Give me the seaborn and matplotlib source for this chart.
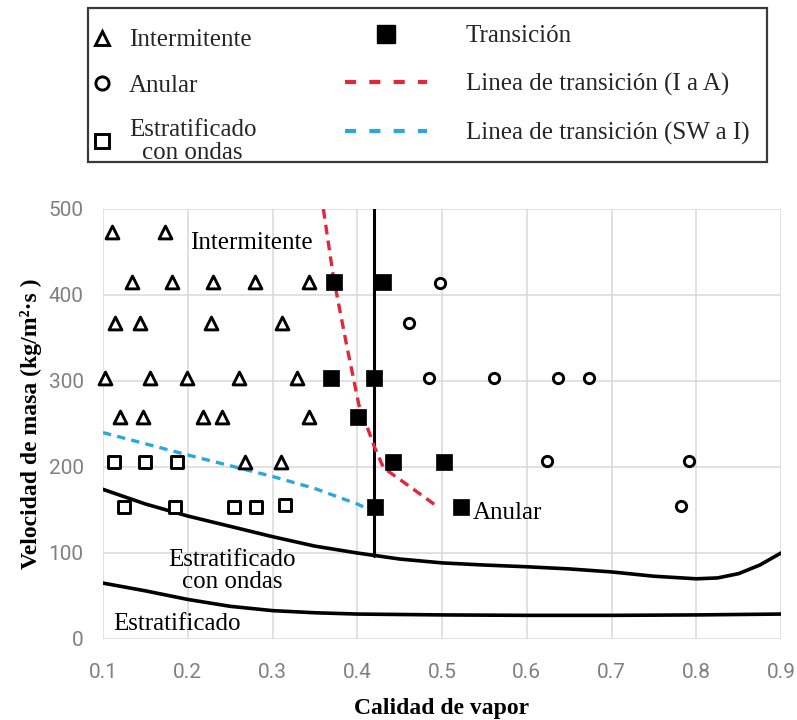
import matplotlib
matplotlib.use("Agg")
import matplotlib.pyplot as plt
import seaborn as sns
from matplotlib.lines import Line2D
from matplotlib.patches import Rectangle

# ---------------- data ----------------
# Intermitente (open triangles)
int_x = [0.111, 0.173,
         0.134, 0.181, 0.230, 0.279, 0.343,
         0.114, 0.144, 0.228, 0.311,
         0.102, 0.155, 0.199, 0.261, 0.329,
         0.120, 0.147, 0.218, 0.240, 0.343,
         0.268, 0.310]
int_y = [473, 473,
         415, 415, 415, 415, 415,
         368, 368, 368, 368,
         303, 303, 303, 303, 303,
         258, 258, 258, 258, 258,
         206, 206]

# Anular (open circles)
anu_x = [0.498, 0.461, 0.485, 0.561, 0.637, 0.674, 0.624, 0.791, 0.782]
anu_y = [414, 367, 303, 303, 303, 303, 207, 207, 155]

# Estratificado con ondas (open squares)
sw_x = [0.113, 0.150, 0.187, 0.125, 0.185, 0.254, 0.280, 0.315]
sw_y = [206, 206, 206, 154, 154, 154, 154, 156]

# Transicion (filled squares)
tr_x = [0.372, 0.430, 0.369, 0.420, 0.401, 0.442, 0.502, 0.421, 0.523]
tr_y = [415, 415, 304, 304, 258, 206, 206, 154, 154]

# Frontera estratificado con ondas (solid black)
upper_x = [0.10, 0.15, 0.20, 0.25, 0.30, 0.35, 0.40, 0.45, 0.50, 0.55, 0.60,
           0.65, 0.70, 0.75, 0.80, 0.825, 0.85, 0.875, 0.90]
upper_y = [174, 157, 143, 131, 119, 108, 100, 93, 88.5, 86, 84,
           81.5, 78, 73, 70, 71, 76, 86, 100]

# Frontera estratificado (solid black)
lower_x = [0.10, 0.15, 0.20, 0.25, 0.30, 0.35, 0.40, 0.50, 0.60, 0.70, 0.80, 0.90]
lower_y = [65, 56, 46, 38, 33, 30.5, 29, 28, 27.5, 27.5, 28, 29]

# Frontera intermitente / anular vertical
vert_x = [0.42, 0.42]
vert_y = [97, 500]

# Linea de transicion (I a A) - red dashed
ia_x = [0.360, 0.372, 0.388, 0.402, 0.413, 0.420, 0.431, 0.458, 0.496]
ia_y = [500, 420, 339, 272, 243, 224, 199, 180, 153]

# Linea de transicion (SW a I) - cyan dashed
swi_x = [0.10, 0.20, 0.30, 0.35, 0.40, 0.415]
swi_y = [240, 214, 189, 175, 157, 150]

x_ticks = [0.1, 0.2, 0.3, 0.4, 0.5, 0.6, 0.7, 0.8, 0.9]
x_ticklabels = ["0.1", "0.2", "0.3", "0.4", "0.5", "0.6", "0.7", "0.8", "0.9"]
y_ticks = [0, 100, 200, 300, 400, 500]
y_ticklabels = ["0", "100", "200", "300", "400", "500"]

legend_labels_1 = ["Intermitente", "Anular", "Estratificado\ncon ondas"]
legend_labels_2 = ["Transición", "Linea de transición (I a A)", "Linea de transición (SW a I)"]

RED = "#e3263a"
CYAN = "#2aa8dc"

# ---------------- style ----------------
sns.set_theme(style="white")
plt.rcParams["font.family"] = ["Liberation Serif", "DejaVu Serif"]
plt.rcParams["lines.scale_dashes"] = False

W, H = 797, 720
fig = plt.figure(figsize=(W / 100, H / 100), dpi=100)
ax = fig.add_axes([103 / W, 1 - 639 / H, 678 / W, 430 / H])

ax.set_xlim(0.1, 0.9)
ax.set_ylim(0, 500)
ax.set_xticks(x_ticks)
ax.set_xticklabels(x_ticklabels)
ax.set_yticks(y_ticks)
ax.set_yticklabels(y_ticklabels)
ax.grid(True, color="#d9d9d9", lw=1.1)
ax.set_axisbelow(True)
for s in ax.spines.values():
    s.set_visible(False)
ax.tick_params(axis="both", length=0, labelcolor="#808080")
ax.tick_params(axis="x", pad=17)
ax.tick_params(axis="y", pad=14)
for lbl in ax.get_xticklabels() + ax.get_yticklabels():
    lbl.set_fontfamily(["Liberation Sans Narrow", "Roboto", "DejaVu Sans"])
    lbl.set_fontsize(15)

# ---------------- lines ----------------
sns.lineplot(x=lower_x, y=lower_y, ax=ax, color="black", lw=2.6,
             estimator=None, sort=False)
sns.lineplot(x=upper_x, y=upper_y, ax=ax, color="black", lw=2.6,
             estimator=None, sort=False)
sns.lineplot(x=vert_x, y=vert_y, ax=ax, color="black", lw=2.2,
             estimator=None, sort=False)
sns.lineplot(x=ia_x, y=ia_y, ax=ax, color=RED, lw=2.4,
             estimator=None, sort=False, linestyle=(0, (7, 4.5)))
sns.lineplot(x=swi_x, y=swi_y, ax=ax, color=CYAN, lw=2.4,
             estimator=None, sort=False, linestyle=(0, (6, 4.5)))

# ---------------- markers ----------------
sns.scatterplot(x=int_x, y=int_y, ax=ax, marker="^", s=85, color="white",
                edgecolor="black", linewidth=2.1, clip_on=False, zorder=5)
sns.scatterplot(x=anu_x, y=anu_y, ax=ax, marker="o", s=55, color="white",
                edgecolor="black", linewidth=2.1, clip_on=False, zorder=5)
sns.scatterplot(x=sw_x, y=sw_y, ax=ax, marker="s", s=64, color="white",
                edgecolor="black", linewidth=2.1, clip_on=False, zorder=5)
sns.scatterplot(x=tr_x, y=tr_y, ax=ax, marker="s", s=118, color="black",
                edgecolor="black", linewidth=0.5, clip_on=False, zorder=6)

# ---------------- annotations ----------------
FS = 18
ax.text(0.203, 461, "Intermitente", fontsize=FS, ha="left", va="center", color="black")
ax.text(0.536, 147, "Anular", fontsize=FS, ha="left", va="center", color="black")
ax.text(0.252, 79, "Estratificado\ncon ondas", fontsize=FS, ha="center", va="center",
        multialignment="center", linespacing=1.05, color="black")
ax.text(0.112, 17, "Estratificado", fontsize=FS, ha="left", va="center", color="black")

ax.set_xlabel("Calidad de vapor", fontsize=17, fontweight="bold", color="black")
ax.xaxis.set_label_coords(0.5, -0.138)
ax.set_ylabel("Velocidad de masa (kg/m²·s )", fontsize=17, fontweight="bold", color="black")
ax.yaxis.set_label_coords(-0.09, 0.5)

# ---------------- legend ----------------
h1 = [
    Line2D([], [], ls="none", marker="^", ms=10.5, mfc="white", mec="black", mew=2.1),
    Line2D([], [], ls="none", marker="o", ms=9.5, mfc="white", mec="black", mew=2.1),
    Line2D([], [], ls="none", marker="s", ms=10, mfc="white", mec="black", mew=2.1),
]
h2 = [
    Line2D([], [], ls="none", marker="s", ms=13.5, mfc="black", mec="black"),
    Line2D([], [], color=RED, lw=3.0, ls=(0, (8, 9.5))),
    Line2D([], [], color=CYAN, lw=3.0, ls=(0, (8, 9.5))),
]
fsz_px = FS * 100 / 72
leg1 = fig.legend(h1, legend_labels_1, loc="upper left",
                  bbox_to_anchor=(91 / W, 1 - 29 / H), frameon=False,
                  fontsize=FS, handlelength=0.9, handletextpad=0.62,
                  labelspacing=0.9, borderpad=0, borderaxespad=0)
for t in leg1.get_texts():
    t.set_multialignment("center")
    t.set_linespacing(1.05)
leg2 = fig.legend(h2, legend_labels_2, loc="upper left",
                  bbox_to_anchor=(345 / W, 1 - 25 / H), frameon=False,
                  fontsize=FS, handlelength=82 / fsz_px, handletextpad=1.55,
                  labelspacing=1.02, borderpad=0, borderaxespad=0)

fig.patches.append(Rectangle((88 / W, 1 - 162 / H), (767 - 88) / W, (162 - 8) / H,
                             transform=fig.transFigure, fill=False,
                             ec="#3a3a3a", lw=1.6))

fig.savefig("out.png", dpi=100, facecolor="white")
